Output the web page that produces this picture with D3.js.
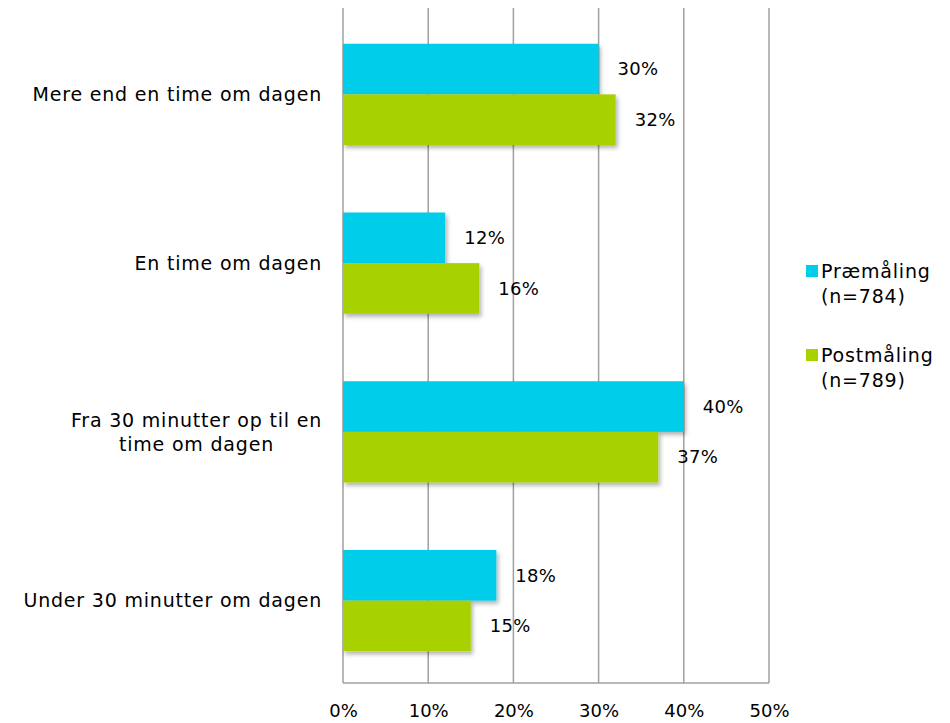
<!DOCTYPE html>
<html>
<head>
<meta charset="utf-8">
<script src="https://cdn.jsdelivr.net/npm/d3@7"></script>
<style>
  body { margin: 0; background: #fff; }
  svg { display: block; font-family: "DejaVu Sans", sans-serif; }
</style>
</head>
<body>
<svg id="chart" width="950" height="723"></svg>
<script>
// Daily time categories (top to bottom)
const categories = [
  "Mere end en time om dagen",
  "En time om dagen",
  "Fra 30 minutter op til en time om dagen",
  "Under 30 minutter om dagen"
];
// Category label lines as wrapped
const categoryLines = [
  ["Mere end en time om dagen"],
  ["En time om dagen"],
  ["Fra 30 minutter op til en", "time om dagen"],
  ["Under 30 minutter om dagen"]
];
const seriesNames = ["Præmåling", "Postmåling"];
const seriesNotes = ["(n=784)", "(n=789)"];
const preValues = [30, 12, 40, 18];
const postValues = [32, 16, 37, 15];
const tickValues = [0, 10, 20, 30, 40, 50];
const colors = ["#00cdea", "#a8d100"];

const svg = d3.select("#chart");
const fontSize = 18;
const labelSize = 19;
const labelSpacing = 0.8;

const x = d3.scaleLinear().domain([0, 50]).range([343, 769]);
const y = d3.scaleBand().domain(categories).range([10, 685]).paddingInner(0.4).paddingOuter(0.2);
const ySub = d3.scaleBand().domain([0, 1]).range([0, y.bandwidth()]);

const plotTop = 8, plotBottom = 683;

// Drop shadow for the bars
const defs = svg.append("defs");
const f = defs.append("filter").attr("id", "shadow").attr("x", "-5%").attr("y", "-20%").attr("width", "115%").attr("height", "150%");
f.append("feDropShadow").attr("dx", 2).attr("dy", 3).attr("stdDeviation", 2)
  .attr("flood-color", "#000").attr("flood-opacity", 0.3);

// Vertical gridlines
svg.append("g").selectAll("line").data(tickValues).join("line")
  .attr("x1", d => x(d)).attr("x2", d => x(d))
  .attr("y1", plotTop).attr("y2", plotBottom)
  .attr("stroke", "#a0a0a0").attr("stroke-width", 1.5);

// Bottom axis line
svg.append("line")
  .attr("x1", x(0)).attr("x2", x(50))
  .attr("y1", plotBottom).attr("y2", plotBottom)
  .attr("stroke", "#a0a0a0").attr("stroke-width", 1.5);

// X tick labels
const xAxis = d3.axisBottom(x).tickValues(tickValues).tickFormat(d => d + "%").tickSize(0).tickPadding(0);
const gx = svg.append("g").attr("transform", `translate(0,${plotBottom + 21})`).call(xAxis);
gx.select(".domain").remove();
gx.selectAll("text").attr("font-size", fontSize).attr("font-family", "DejaVu Sans, sans-serif").attr("fill", "#000");

// Bars
const rows = categories.map((c, i) => ({ cat: c, vals: [preValues[i], postValues[i]] }));
const groups = svg.append("g").selectAll("g").data(rows).join("g")
  .attr("transform", d => `translate(0,${y(d.cat)})`);

groups.selectAll("rect").data(d => d.vals.map((v, k) => ({ v, k }))).join("rect")
  .attr("x", x(0))
  .attr("y", d => ySub(d.k))
  .attr("width", d => x(d.v) - x(0))
  .attr("height", ySub.bandwidth())
  .attr("fill", d => colors[d.k])
  .attr("filter", "url(#shadow)");

// Value labels
groups.selectAll("text.val").data(d => d.vals.map((v, k) => ({ v, k }))).join("text")
  .attr("class", "val")
  .attr("x", d => x(d.v) + 19)
  .attr("y", d => ySub(d.k) + ySub.bandwidth() / 2)
  .attr("dy", "0.35em")
  .attr("font-size", fontSize)
  .attr("letter-spacing", 0.3)
  .text(d => d.v + "%");

// Category labels: block right-aligned to the axis, lines centred within the block
const labelRight = 322;
const lh = 24;
svg.append("g").selectAll("g").data(categories).join("g")
  .each(function(d, i) {
    const lines = categoryLines[i];
    const g = d3.select(this);
    const cy = y(d) + y.bandwidth() / 2;
    const off = -(lines.length - 1) * lh / 2;
    const texts = lines.map((ln, j) => g.append("text")
      .attr("font-size", labelSize)
      .attr("letter-spacing", labelSpacing)
      .attr("text-anchor", "middle")
      .attr("y", cy + off + j * lh)
      .attr("dy", "0.35em")
      .text(ln));
    const maxW = d3.max(texts, t => t.node().getComputedTextLength());
    texts.forEach(t => t.attr("x", labelRight - maxW / 2));
  });

// Legend
const legendY = [271, 355];
const lg = svg.append("g").selectAll("g").data(seriesNames).join("g")
  .attr("transform", (d, i) => `translate(806,${legendY[i]})`);
lg.append("rect").attr("x", 0).attr("y", -6).attr("width", 12).attr("height", 12).attr("fill", (d, i) => colors[i]);
lg.append("text").attr("x", 15).attr("y", 0).attr("dy", "0.35em").attr("font-size", labelSize)
  .attr("letter-spacing", labelSpacing).text(d => d);
lg.append("text").attr("x", 15).attr("y", 25).attr("dy", "0.35em").attr("font-size", labelSize)
  .attr("letter-spacing", labelSpacing).text((d, i) => seriesNotes[i]);
</script>
</body>
</html>
